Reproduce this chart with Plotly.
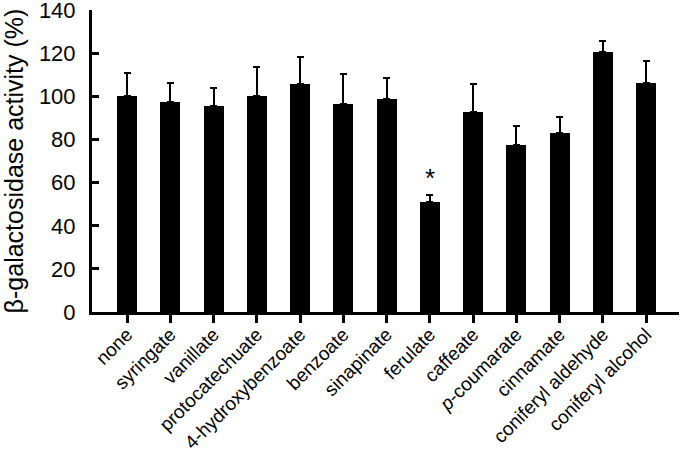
import plotly.graph_objects as go

categories = ["none", "syringate", "vanillate", "protocatechuate", "4-hydroxybenzoate",
              "benzoate", "sinapinate", "ferulate", "caffeate", "p-coumarate",
              "cinnamate", "coniferyl aldehyde", "coniferyl alcohol"]
tick_labels = ["none", "syringate", "vanillate", "protocatechuate", "4-hydroxybenzoate",
               "benzoate", "sinapinate", "ferulate", "caffeate", "<i>p</i>-coumarate",
               "cinnamate", "coniferyl aldehyde", "coniferyl alcohol"]
activity = [100.5, 97.5, 95.8, 100.5, 106.0, 96.5, 99.0, 51.0, 93.0, 77.3, 83.0, 120.8, 106.2]
error_up = [10.3, 8.8, 8.0, 13.3, 12.2, 14.0, 9.8, 3.4, 12.8, 9.0, 7.3, 5.0, 10.5]
y_ticks = [0, 20, 40, 60, 80, 100, 120, 140]
significant = ["ferulate"]

font_family = "Liberation Sans, Arial, sans-serif"

fig = go.Figure()
fig.add_trace(go.Bar(
    x=list(range(len(categories))),
    y=activity,
    width=0.46,
    marker=dict(color="black", line=dict(width=0)),
    error_y=dict(type="data", symmetric=False, array=error_up,
                 arrayminus=[0] * len(error_up),
                 color="black", thickness=2, width=3.5),
    showlegend=False,
))

for name in significant:
    i = categories.index(name)
    fig.add_annotation(x=i, y=activity[i] + error_up[i] + 8, text="*",
                       showarrow=False, yanchor="middle",
                       font=dict(size=26, color="black", family=font_family))

fig.update_layout(
    width=680, height=456,
    margin=dict(l=92, r=1, t=10, b=144),
    paper_bgcolor="white", plot_bgcolor="white",
    font=dict(family=font_family, color="black"),
    bargap=0,
)
fig.update_xaxes(
    tickmode="array", tickvals=list(range(len(categories))), ticktext=tick_labels,
    range=[-0.81, 12.76], tickangle=-45, automargin=False,
    showline=True, linecolor="black", linewidth=3,
    ticks="outside", ticklen=8, tickwidth=3, tickcolor="black",
    showgrid=False, zeroline=False, ticklabelstandoff=-7,
    ticklabeloverflow="allow",
    tickfont=dict(size=19, family=font_family, color="black"),
)
fig.update_yaxes(
    range=[0, 140.2], tickmode="array", tickvals=y_ticks, automargin=False,
    showline=True, linecolor="black", linewidth=3,
    ticks="inside", ticklen=7, tickwidth=2.5, tickcolor="black",
    showgrid=False, zeroline=False, ticklabelstandoff=9,
    ticklabeloverflow="allow",
    tickfont=dict(size=22, family=font_family, color="black"),
    title=dict(text="β-galactosidase activity (%)", standoff=15,
               font=dict(size=25, family=font_family, color="black")),
)

fig.write_html("out.html", config={"displayModeBar": False},
               post_script="document.body.style.margin='0px';")
